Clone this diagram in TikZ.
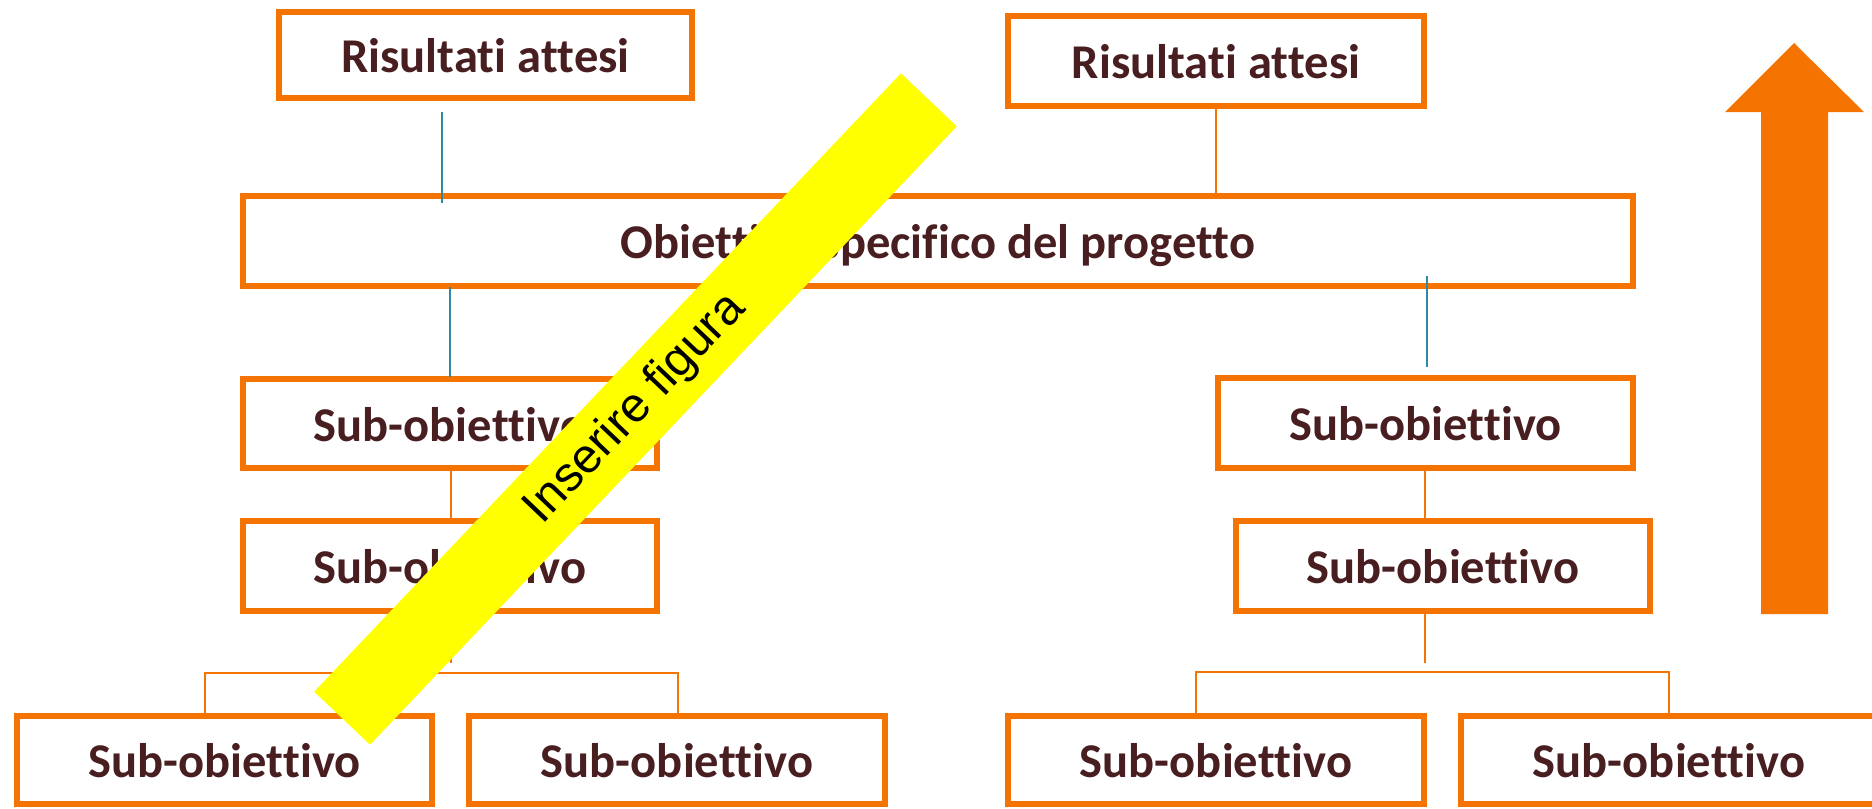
\documentclass[tikz,border=0pt]{standalone}
\usepackage{fontspec}
\setmainfont[Ligatures={TeX,NoCommon}]{Carlito}
\newfontfamily\arialf{Liberation Sans}
\newcommand\dbt{t\kern0pt t}
\definecolor{boxorange}{HTML}{F57300}
\definecolor{txtbrown}{HTML}{481E20}
\definecolor{lineblue}{HTML}{2E8BA8}
\definecolor{bandyellow}{HTML}{FFFF00}
\begin{document}
\begin{tikzpicture}[x=0.01cm,y=-0.01cm,
  box/.style={draw=boxorange, line width=1.7pt, fill=white, inner sep=0pt,
    minimum width=41.4mm, minimum height=8.9mm, text height=10pt, text depth=0pt,
    font=\fontsize{13.8}{16}\selectfont\bfseries, text=txtbrown},
  blueline/.style={draw=lineblue, line width=0.6pt},
  orline/.style={draw=boxorange, line width=0.6pt},
  band/.style={fill=bandyellow, rotate=46.5, minimum width=85.2mm, minimum height=7.7mm,
    inner sep=0pt, font=\arialf\fontsize{13.8}{16}\selectfont, text=black},
  bigarrow/.style={fill=boxorange, draw=none}
]
\useasboundingbox (0,0) rectangle (1872,808);

% boxes
\node[box, minimum width=41.3mm, minimum height=8.6mm] (raL) at (485.5,55) {Risultati a\dbt esi};
\node[box, minimum width=41.6mm, minimum height=9.0mm] (raR) at (1216,61) {Risultati a\dbt esi};
\node[box, minimum width=139.0mm, minimum height=9.0mm] (ob) at (938,241) {Obie\dbt ivo specifico del proge\dbt o};
\node[box] (sL1) at (450,423.5) {Sub-obie\dbt ivo};
\node[box, minimum height=9.0mm] (sL2) at (450,566) {Sub-obie\dbt ivo};
\node[box, minimum width=41.5mm, minimum height=9.0mm] (sR1) at (1425.5,423) {Sub-obie\dbt ivo};
\node[box, minimum height=9.0mm] (sR2) at (1443,566) {Sub-obie\dbt ivo};
\node[box, minimum width=41.5mm, minimum height=8.8mm] (bL1) at (224.5,760) {Sub-obie\dbt ivo};
\node[box, minimum width=41.6mm, minimum height=8.8mm] (bL2) at (677,760) {Sub-obie\dbt ivo};
\node[box, minimum width=41.6mm, minimum height=8.8mm] (bR1) at (1216,760) {Sub-obie\dbt ivo};
\node[box, minimum width=41.6mm, minimum height=8.8mm] (bR2) at (1669,760) {Sub-obie\dbt ivo};

% connector end points
\coordinate (c1a) at (442,112);  \coordinate (c1b) at (442,203);
\coordinate (c2a) at (450,287);  \coordinate (c2b) at (450,377);
\coordinate (c3a) at (451,471);  \coordinate (c3b) at (451,518);
\coordinate (c4a) at (451,614);  \coordinate (c4b) at (451,663);
\coordinate (bl) at (205,673);   \coordinate (br) at (678,673);
\coordinate (bld) at (205,713);  \coordinate (brd) at (678,713);

\coordinate (d1a) at (1216,109); \coordinate (d1b) at (1216,193);
\coordinate (d2a) at (1427,276); \coordinate (d2b) at (1427,367);
\coordinate (d3a) at (1425,471); \coordinate (d3b) at (1425,518);
\coordinate (d4a) at (1425,614); \coordinate (d4b) at (1425,663);
\coordinate (rl) at (1196,672);  \coordinate (rr) at (1669,672);
\coordinate (rld) at (1196,713); \coordinate (rrd) at (1669,713);

\draw[blueline] (c1a) -- (c1b);
\draw[blueline] (c2a) -- (c2b);
\draw[orline] (c3a) -- (c3b);
\draw[orline] (c4a) -- (c4b);
\draw[orline] (bld) -- (bl) -- (br) -- (brd);

\draw[orline] (d1a) -- (d1b);
\draw[blueline] (d2a) -- (d2b);
\draw[orline] (d3a) -- (d3b);
\draw[orline] (d4a) -- (d4b);
\draw[orline] (rld) -- (rl) -- (rr) -- (rrd);

% yellow band
\node[band] (fig) at (635.5,409) {Inserire figura};

% big arrow
\fill[bigarrow] (1794,43) -- (1864,112) -- (1828,112) -- (1828,614) -- (1761,614) -- (1761,112) -- (1725,112) -- cycle;
\end{tikzpicture}
\end{document}
